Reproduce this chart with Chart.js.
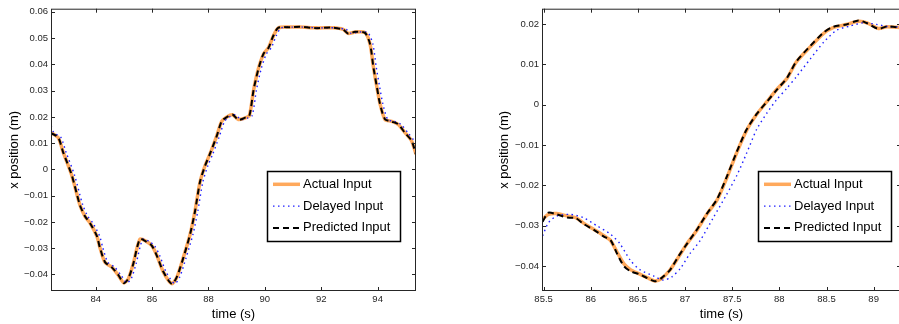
<!DOCTYPE html>
<html>
<head>
<meta charset="utf-8">
<script src="https://cdn.jsdelivr.net/npm/chart.js@4.4.1/dist/chart.umd.min.js"></script>
<style>
  html, body { margin: 0; padding: 0; background: #fff; overflow: hidden; }
  #wrap { position: relative; width: 899px; height: 324px; overflow: hidden; }
  canvas { position: absolute; top: 0; }
  #left { left: 0; }
  #right { left: 450px; }
</style>
</head>
<body>
<div id="wrap">
  <canvas id="left" width="450" height="324"></canvas>
  <canvas id="right" width="460" height="324"></canvas>
</div>
<script>
// ---- left panel data (time in s, x position in m) ----
let leftTime = [82.42, 82.67, 82.85, 83.15, 83.44, 83.62, 83.8, 84.04, 84.15, 84.33,
    84.57, 84.8, 85.0, 85.16, 85.33, 85.57, 85.81, 85.99, 86.17, 86.4,
    86.7, 86.88, 87.11, 87.35, 87.52, 87.7, 87.88, 88.05, 88.29, 88.47,
    88.65, 88.85, 89.06, 89.3, 89.45, 89.6, 89.77, 89.95, 90.13, 90.3,
    90.48, 90.89, 91.24, 91.83, 92.42, 92.78, 92.96, 93.2, 93.55, 93.73,
    93.85, 93.97, 94.08, 94.26, 94.5, 94.73, 94.97, 95.2, 95.36];
let leftActual = [0.0140, 0.0121, 0.0065, -0.0022, -0.0135, -0.0179, -0.0204, -0.0254, -0.0297, -0.0354,
    -0.0372, -0.0403, -0.0432, -0.0416, -0.0360, -0.0266, -0.0275, -0.0291, -0.0328, -0.0391,
    -0.0435, -0.0410, -0.0335, -0.0247, -0.0160, -0.0048, 0.0015, 0.0058, 0.0127, 0.0183,
    0.0200, 0.0208, 0.0190, 0.0196, 0.0205, 0.0302, 0.0383, 0.0439, 0.0464, 0.0508,
    0.0539, 0.0542, 0.0542, 0.0539, 0.0539, 0.0533, 0.0518, 0.0523, 0.0521, 0.0477,
    0.0390, 0.0315, 0.0252, 0.0190, 0.0183, 0.0171, 0.0140, 0.0109, 0.0058];
let leftPredicted = [0.0138, 0.0122, 0.0064, -0.0021, -0.0136, -0.0178, -0.0205, -0.0253, -0.0298, -0.0353,
    -0.0373, -0.0402, -0.0433, -0.0415, -0.0361, -0.0265, -0.0276, -0.0290, -0.0329, -0.0390,
    -0.0436, -0.0409, -0.0336, -0.0246, -0.0161, -0.0047, 0.0014, 0.0059, 0.0126, 0.0184,
    0.0199, 0.0209, 0.0189, 0.0197, 0.0204, 0.0303, 0.0382, 0.0440, 0.0463, 0.0509,
    0.0540, 0.0541, 0.0543, 0.0538, 0.0540, 0.0532, 0.0517, 0.0524, 0.0520, 0.0478,
    0.0389, 0.0316, 0.0251, 0.0191, 0.0182, 0.0172, 0.0139, 0.0110, 0.0057];
let leftDelayedTime = [82.42, 82.52, 82.77, 82.95, 83.25, 83.54, 83.72, 83.9, 84.14, 84.25,
    84.43, 84.67, 84.9, 85.1, 85.26, 85.43, 85.67, 85.91, 86.09, 86.27,
    86.5, 86.8, 86.98, 87.21, 87.45, 87.62, 87.8, 87.98, 88.15, 88.39,
    88.57, 88.75, 88.95, 89.16, 89.4, 89.55, 89.7, 89.87, 90.05, 90.23,
    90.4, 90.58, 90.99, 91.34, 91.93, 92.52, 92.88, 93.06, 93.3, 93.65,
    93.83, 93.95, 94.07, 94.18, 94.36, 94.6, 94.83, 95.07, 95.3, 95.36];
let leftDelayed = [0.0165, 0.0140, 0.0121, 0.0065, -0.0022, -0.0135, -0.0179, -0.0204, -0.0254, -0.0297,
    -0.0354, -0.0372, -0.0403, -0.0432, -0.0416, -0.0360, -0.0266, -0.0275, -0.0291, -0.0328,
    -0.0391, -0.0435, -0.0410, -0.0335, -0.0247, -0.0160, -0.0048, 0.0015, 0.0058, 0.0127,
    0.0183, 0.0200, 0.0208, 0.0190, 0.0196, 0.0205, 0.0302, 0.0383, 0.0439, 0.0464,
    0.0508, 0.0539, 0.0542, 0.0542, 0.0539, 0.0539, 0.0533, 0.0518, 0.0523, 0.0521,
    0.0477, 0.0390, 0.0315, 0.0252, 0.0190, 0.0183, 0.0171, 0.0140, 0.0109, 0.0100];
let leftXTicks = [84, 86, 88, 90, 92, 94];
let leftYTicks = [-0.04, -0.03, -0.02, -0.01, 0, 0.01, 0.02, 0.03, 0.04, 0.05, 0.06];

// ---- right panel data ----
let rightTime = [85.49, 85.55, 85.64, 85.75, 85.84, 85.92, 86.03, 86.14, 86.21, 86.28,
    86.35, 86.42, 86.51, 86.6, 86.68, 86.75, 86.84, 86.93, 87.02, 87.12,
    87.23, 87.34, 87.44, 87.55, 87.65, 87.76, 87.87, 87.97, 88.08, 88.18,
    88.33, 88.47, 88.57, 88.71, 88.84, 88.93, 89.05, 89.14, 89.29];
let rightActual = [-0.0284, -0.0272, -0.0270, -0.0276, -0.0280, -0.0293, -0.0309, -0.0325, -0.0337, -0.0366,
    -0.0394, -0.0409, -0.0419, -0.0429, -0.0437, -0.0431, -0.0410, -0.0378, -0.0345, -0.0313,
    -0.0272, -0.0236, -0.0183, -0.0118, -0.0065, -0.0024, 0.0008, 0.0037, 0.0065, 0.0106,
    0.0144, 0.0177, 0.0191, 0.0199, 0.0207, 0.0203, 0.0189, 0.0193, 0.0191];
let rightPredicted = [-0.0290, -0.0268, -0.0272, -0.0280, -0.0281, -0.0295, -0.0310, -0.0327, -0.0336, -0.0370,
    -0.0400, -0.0413, -0.0420, -0.0430, -0.0438, -0.0430, -0.0410, -0.0376, -0.0345, -0.0312,
    -0.0271, -0.0234, -0.0180, -0.0116, -0.0063, -0.0023, 0.0008, 0.0036, 0.0066, 0.0107,
    0.0146, 0.0179, 0.0193, 0.0199, 0.0209, 0.0202, 0.0188, 0.0194, 0.0191];
let rightDelayedTime = [85.49, 85.55, 85.64, 85.78, 85.92, 86.07, 86.21, 86.31, 86.42, 86.52,
    86.67, 86.77, 86.86, 86.95, 87.05, 87.16, 87.3, 87.44, 87.55, 87.65,
    87.76, 87.87, 87.97, 88.08, 88.18, 88.33, 88.47, 88.61, 88.75, 88.89,
    89.03, 89.17, 89.29];
let rightDelayed = [-0.0325, -0.0293, -0.0276, -0.0272, -0.0280, -0.0301, -0.0321, -0.0345, -0.0386, -0.0409,
    -0.0425, -0.0435, -0.0427, -0.0406, -0.0370, -0.0337, -0.0280, -0.0223, -0.0175, -0.0122,
    -0.0061, -0.0020, 0.0012, 0.0041, 0.0069, 0.0114, 0.0155, 0.0185, 0.0195, 0.0203,
    0.0199, 0.0193, 0.0193];
let rightXTicks = [85.5, 86, 86.5, 87, 87.5, 88, 88.5, 89];
let rightYTicks = [-0.04, -0.03, -0.02, -0.01, 0, 0.01, 0.02];

const FONT = '"Liberation Sans", Arial, Helvetica, sans-serif';
const AXIS = '#262626';

function pts(xs, ys) {
    return xs.map((t, i) => ({ x: t, y: ys[i] }));
}

function fmtY(v) {
    if (Math.abs(v) < 1e-9) return '0';
    let s = Math.abs(v).toFixed(2);
    return (v < 0 ? '\u2212' : '') + s;
}

// matlab style box with ticks pointing inward
const boxTicks = {
    id: 'boxTicks',
    afterDatasetsDraw(chart) {
        let ctx = chart.ctx;
        let a = chart.chartArea;
        let xs = chart.scales.x, ys = chart.scales.y;
        ctx.save();
        ctx.strokeStyle = AXIS;
        ctx.lineWidth = 1;
        ctx.setLineDash([]);
        ctx.beginPath();
        xs.ticks.forEach(t => {
            let px = Math.round(xs.getPixelForValue(t.value)) + 0.5;
            ctx.moveTo(px, a.bottom); ctx.lineTo(px, a.bottom - 4);
            ctx.moveTo(px, a.top); ctx.lineTo(px, a.top + 4);
        });
        ys.ticks.forEach(t => {
            let py = Math.round(ys.getPixelForValue(t.value)) + 0.5;
            ctx.moveTo(a.left, py); ctx.lineTo(a.left + 4, py);
            ctx.moveTo(a.right, py); ctx.lineTo(a.right - 4, py);
        });
        ctx.stroke();
        ctx.strokeRect(a.left + 0.5, a.top + 0.5, a.right - a.left - 1, a.bottom - a.top - 1);
        ctx.restore();
    }
};

const legendBox = {
    id: 'legendBox',
    afterDraw(chart, args, opts) {
        let ctx = chart.ctx;
        let a = chart.chartArea;
        let x = Math.round(a.right - opts.right - opts.width);
        let y = Math.round(a.top + opts.top);
        ctx.save();
        ctx.fillStyle = '#fff';
        ctx.fillRect(x, y, opts.width, opts.height);
        ctx.strokeStyle = '#000';
        ctx.lineWidth = 1.5;
        ctx.strokeRect(x + 0.5, y + 0.5, opts.width, opts.height);
        chart.data.datasets.forEach((ds, i) => {
            let cy = y + opts.rowStart + i * opts.rowGap;
            ctx.beginPath();
            ctx.setLineDash(ds.borderDash || []);
            ctx.strokeStyle = ds.borderColor;
            ctx.lineWidth = ds.borderWidth;
            ctx.moveTo(x + 6, cy);
            ctx.lineTo(x + 33, cy);
            ctx.stroke();
            ctx.setLineDash([]);
            ctx.fillStyle = '#000';
            ctx.font = '13px ' + FONT;
            ctx.textBaseline = 'middle';
            ctx.fillText(ds.label, x + 36, cy);
        });
        ctx.restore();
    }
};

function makeChart(id, d) {
    let ctx = document.getElementById(id).getContext('2d');
    return new Chart(ctx, {
        type: 'line',
        data: {
            datasets: [{
                label: 'Actual Input',
                data: pts(d.time, d.actual),
                borderColor: '#ffa95c',
                borderWidth: 3.5,
                pointRadius: 0,
                tension: 0.25,
                order: 3
            }, {
                label: 'Delayed Input',
                data: pts(d.delayedTime, d.delayed),
                borderColor: '#2020ff',
                borderWidth: 1.4,
                borderDash: [1.5, 3.5],
                pointRadius: 0,
                tension: 0.25,
                order: 2
            }, {
                label: 'Predicted Input',
                data: pts(d.time, d.predicted),
                borderColor: '#000',
                borderWidth: 2,
                borderDash: [6, 4],
                pointRadius: 0,
                tension: 0.25,
                order: 1
            }]
        },
        options: {
            responsive: false,
            animation: false,
            devicePixelRatio: 1,
            layout: { padding: { top: 4, right: d.padRight, left: 0, bottom: 0 } },
            plugins: {
                legend: { display: false },
                tooltip: { enabled: false },
                legendBox: d.legend
            },
            scales: {
                x: {
                    type: 'linear',
                    min: d.xMin,
                    max: d.xMax,
                    grid: { display: false, drawTicks: false },
                    border: { display: false },
                    afterBuildTicks: s => { s.ticks = d.xTicks.map(v => ({ value: v })); },
                    afterFit: s => { s.height = 33; },
                    ticks: {
                        padding: 3,
                        color: AXIS,
                        font: { family: FONT, size: 9.5 },
                        maxRotation: 0,
                        autoSkip: false,
                        callback: v => String(v)
                    },
                    title: {
                        display: true,
                        text: 'time (s)',
                        color: '#000',
                        font: { family: FONT, size: 13 },
                        padding: { top: 0, bottom: 2 }
                    }
                },
                y: {
                    type: 'linear',
                    min: d.yMin,
                    max: d.yMax,
                    grid: { display: false, drawTicks: false },
                    border: { display: false },
                    afterBuildTicks: s => { s.ticks = d.yTicks.map(v => ({ value: v })); },
                    afterFit: s => { s.width = d.yWidth; },
                    ticks: {
                        padding: 3,
                        color: AXIS,
                        font: { family: FONT, size: 9.5 },
                        autoSkip: false,
                        callback: v => fmtY(v)
                    },
                    title: {
                        display: true,
                        text: 'x position (m)',
                        color: '#000',
                        font: { family: FONT, size: 13 },
                        padding: { top: d.yTitlePad, bottom: 0 }
                    }
                }
            }
        },
        plugins: [boxTicks, legendBox]
    });
}

makeChart('left', {
    time: leftTime, actual: leftActual, predicted: leftPredicted,
    delayedTime: leftDelayedTime, delayed: leftDelayed,
    xMin: 82.415, xMax: 95.36, yMin: -0.0463, yMax: 0.0612,
    xTicks: leftXTicks, yTicks: leftYTicks,
    yWidth: 51, padRight: 34, yTitlePad: 7,
    legend: { right: 16, top: 162, width: 133, height: 70, rowStart: 13.3, rowGap: 21.8 }
});

makeChart('right', {
    time: rightTime, actual: rightActual, predicted: rightPredicted,
    delayedTime: rightDelayedTime, delayed: rightDelayed,
    xMin: 85.483, xMax: 89.29, yMin: -0.0462, yMax: 0.0238,
    xTicks: rightXTicks, yTicks: rightYTicks,
    yWidth: 92, padRight: 9, yTitlePad: 47,
    legend: { right: 10, top: 162, width: 133, height: 70, rowStart: 13.3, rowGap: 21.8 }
});
</script>
</body>
</html>
